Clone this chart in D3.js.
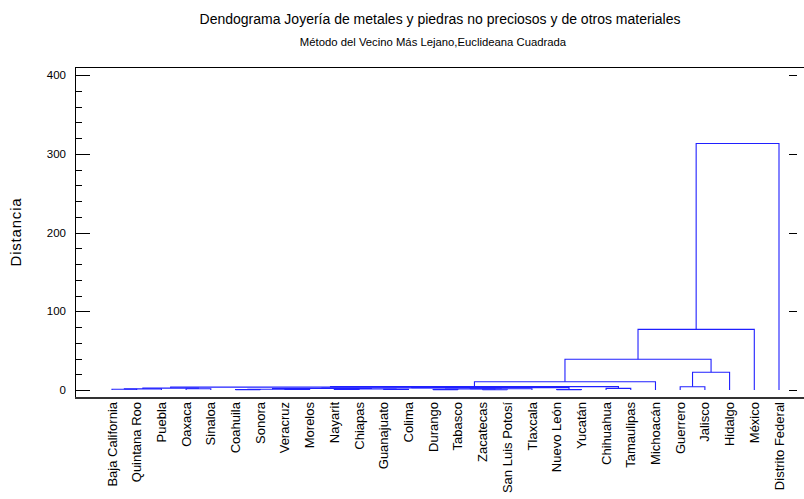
<!DOCTYPE html>
<html><head><meta charset="utf-8">
<script src="https://cdn.jsdelivr.net/npm/d3@7"></script>
<style>body{margin:0;background:#fff}svg{display:block}text{font-family:"Liberation Sans",Arial,sans-serif}</style>
</head><body>
<script>
const title = "Dendograma Joyería de metales y piedras no preciosos y de otros materiales";
const subtitle = "Método del Vecino Más Lejano,Euclideana Cuadrada";
const yLabel = "Distancia";
const leaves = ["Baja California","Quintana Roo","Puebla","Oaxaca","Sinaloa","Coahuila","Sonora","Veracruz","Morelos","Nayarit","Chiapas","Guanajuato","Colima","Durango","Tabasco","Zacatecas","San Luis Potosí","Tlaxcala","Nuevo León","Yucatán","Chihuahua","Tamaulipas","Michoacán","Guerrero","Jalisco","Hidalgo","México","Distrito Federal"];
// linkage: merge k joins mergeLeft[k] and mergeRight[k] at mergeHeight[k];
// indices >= leaves.length refer to cluster (index - leaves.length) formed earlier
const mergeLeft   = [0, 28, 3, 29, 5, 7, 32, 9, 11, 35, 34, 13, 15, 39, 41, 38, 18, 43, 31, 20, 46, 48, 23, 50, 49, 52, 53];
const mergeRight  = [1, 2, 4, 30, 6, 8, 33, 10, 12, 36, 37, 14, 16, 40, 17, 42, 19, 44, 45, 21, 47, 22, 24, 25, 51, 26, 27];
const mergeHeight = [0.9, 1.4, 1.6, 2.4, 0.5, 0.6, 1.0, 0.7, 0.8, 1.3, 2.0, 0.5, 0.4, 1.2, 1.6, 2.6, 0.5, 3.0, 3.6, 2.1, 4.3, 10.5, 4.2, 22.5, 39, 77, 313];
const yTicks = [0, 100, 200, 300, 400];
const yMinor = d3.range(0, 401, 20);

const W = 804, H = 499;
const svg = d3.select("body").append("svg").attr("width", W).attr("height", H);

const x = d3.scalePoint().domain(d3.range(leaves.length)).range([112, 779]);
const y = d3.scaleLinear().domain([0, 400]).range([390, 75]);

const nodes = leaves.map((_, i) => ({x: x(i), h: 0}));
mergeHeight.forEach((h, k) => {
  const a = nodes[mergeLeft[k]], b = nodes[mergeRight[k]];
  nodes.push({x: (a.x + b.x) / 2, h, a, b});
});

const g = svg.append("g").attr("fill", "none").attr("stroke", "#2020ff").attr("stroke-width", 1.1);
nodes.filter(nd => nd.a).forEach(nd => {
  g.append("path").attr("d", `M${nd.a.x},${y(nd.a.h)}V${y(nd.h)}H${nd.b.x}V${y(nd.b.h)}`);
});

// frame
const fr = svg.append("g").attr("stroke", "#000").attr("fill", "none");
fr.append("line").attr("x1", 75.5).attr("x2", 75.5).attr("y1", 67).attr("y2", 398);
fr.append("line").attr("x1", 75).attr("x2", W).attr("y1", 67.5).attr("y2", 67.5);
fr.append("line").attr("x1", 75).attr("x2", W).attr("y1", 398).attr("y2", 398).attr("stroke", "#333").attr("stroke-width", 2.2);

yMinor.forEach(v => {
  const major = yTicks.includes(v);
  const yy = Math.round(y(v)) + 0.5;
  fr.append("line").attr("x1", 75).attr("x2", major ? 90 : 82).attr("y1", yy).attr("y2", yy);
});
yTicks.forEach(v => {
  const yy = Math.round(y(v)) + 0.5;
  fr.append("line").attr("x1", 789).attr("x2", 797).attr("y1", yy).attr("y2", yy);
  svg.append("text").attr("x", 66).attr("y", y(v)).attr("dy", "0.35em").attr("text-anchor", "end")
    .attr("font-size", 11.5).attr("fill", "#000").text(v);
});

leaves.forEach((name, i) => {
  svg.append("text").attr("transform", `translate(${x(i)},402) rotate(-90)`)
    .attr("text-anchor", "end").attr("dy", "0.35em").attr("font-size", 13).attr("fill", "#000").text(name);
});

svg.append("text").attr("x", 440).attr("y", 24).attr("text-anchor", "middle").attr("font-size", 14).attr("fill", "#000").text(title);
svg.append("text").attr("x", 433).attr("y", 46).attr("text-anchor", "middle").attr("font-size", 11.3).attr("fill", "#000").text(subtitle);
svg.append("text").attr("transform", "translate(21,232) rotate(-90)").attr("text-anchor", "middle")
  .attr("font-size", 15).attr("letter-spacing", 0.8).attr("fill", "#000").text(yLabel);
</script>
</body></html>
